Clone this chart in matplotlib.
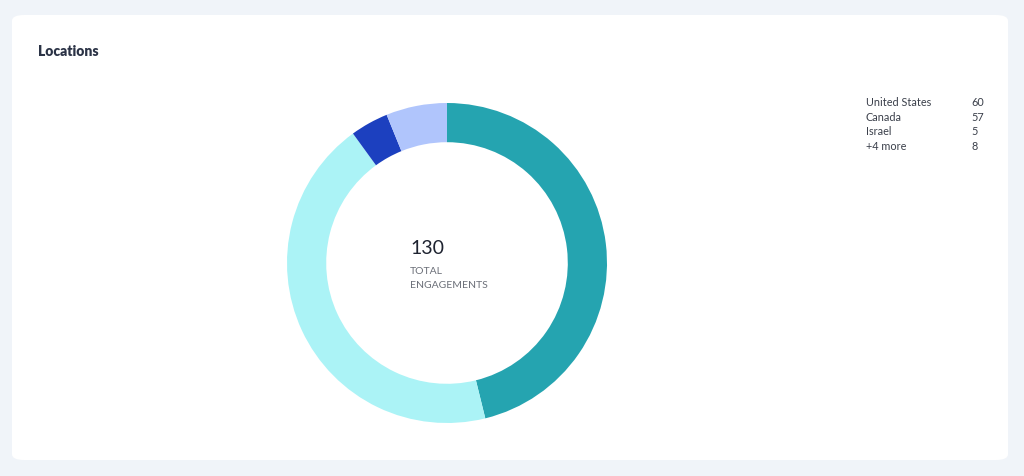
import matplotlib.pyplot as plt
from matplotlib.patches import FancyBboxPatch

plt.rcParams['font.family'] = ['Lato', 'DejaVu Sans']

countries = ["United States", "Canada", "Israel", "+4 more"]
engagements = [60, 57, 5, 8]
colors = ["#25a4b0", "#abf3f6", "#1c40bf", "#b0c5fc"]
total = sum(engagements)

W, H = 1024, 476
fig = plt.figure(figsize=(W / 100, H / 100), dpi=100)
fig.patch.set_facecolor("#f0f4f9")

def px(x, y):
    return x / W, 1 - y / H

# white card
card = FancyBboxPatch((12 / W, 1 - 460 / H), 996 / W, 445 / H,
                      boxstyle="round,pad=0,rounding_size=0.012",
                      transform=fig.transFigure, facecolor="white",
                      edgecolor="none", zorder=-5)
fig.patches.append(card)

fig.text(*px(38, 51), "Locations", fontsize=10, fontweight="heavy",
         color="#2b3346", va="center", ha="left")

# donut
cx, cy, r = 447, 263, 160
ax = fig.add_axes([(cx - r) / W, (H - cy - r) / H, 2 * r / W, 2 * r / H])
ax.set_zorder(2)
ax.patch.set_alpha(0)
ax.pie(engagements, colors=colors, startangle=90, counterclock=False,
       radius=1, wedgeprops=dict(width=0.245, edgecolor="none"))
ax.set_xlim(-1, 1)
ax.set_ylim(-1, 1)
ax.axis("off")

fig.text(*px(410, 248), str(total), fontsize=14, color="#1e2330",
         va="center", ha="left")
fig.text(*px(410, 271.5), "TOTAL", fontsize=7.5, color="#6b6f78",
         va="center", ha="left")
fig.text(*px(410, 285.5), "ENGAGEMENTS", fontsize=7.5, color="#6b6f78",
         va="center", ha="left")

# legend list
for i, (name, val) in enumerate(zip(countries, engagements)):
    y = 103 + i * 14.4
    fig.text(*px(866, y), name, fontsize=7.8, color="#3a3f4a",
             va="center", ha="left")
    fig.text(*px(971, y), str(val), fontsize=7.8, color="#3a3f4a",
             va="center", ha="left")

fig.savefig("out.png", dpi=100, facecolor=fig.get_facecolor())
